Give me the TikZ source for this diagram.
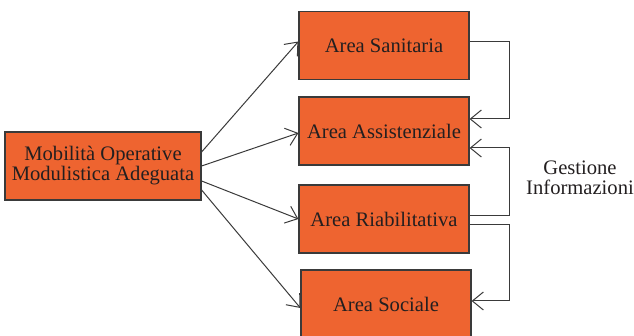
\documentclass[tikz,border=0pt]{standalone}
\usepackage{fontspec}
\setmainfont{Liberation Serif}
\usetikzlibrary{arrows.meta}
\definecolor{areafill}{HTML}{EE6430}
\definecolor{inkgray}{HTML}{3A3A3A}
\definecolor{txtgray}{HTML}{231F20}
\begin{document}
\begin{tikzpicture}[x=0.5pt,y=-0.5pt,
    font=\fontsize{10.3}{10}\selectfont,
    areabox/.style={draw=inkgray,line width=0.6pt,fill=areafill,text=txtgray,
      minimum width=85pt,minimum height=34pt,inner sep=0pt,align=center},
    arr/.style={draw=inkgray,line width=0.5pt,-{Straight Barb[length=5.5pt,width=9pt]}}]
  \useasboundingbox (0,0) rectangle (634,336);
  % source box
  \node[areabox,minimum width=98pt] (mob) at (103,166) {Mobilità Operative\\Modulistica Adeguata};
  % the four areas
  \node[areabox] (san) at (384,45.5) {Area Sanitaria};
  \node[areabox] (ass) at (384,131) {Area Assistenziale};
  \node[areabox] (ria) at (384,219) {Area Riabilitativa};
  \node[areabox] (soc) at (386,304) {Area Sociale};
  \node[text=txtgray,align=center] (gest) at (580,178) {Gestione\\Informazioni};
  % arrows out of the source box
  \draw[arr] ([yshift=7pt]mob.east) -- ([yshift=2pt]san.west);
  \draw[arr] (mob.east) -- ([yshift=-1pt]ass.west);
  \draw[arr] ([yshift=-7.5pt]mob.east) -- (ria.west);
  \draw[arr] ([yshift=-12pt]mob.east) -- ([yshift=-2pt]soc.west);
  % information loops on the right
  \draw[arr] ([yshift=2pt]san.east) -- ++(20pt,0) |- ([yshift=6pt]ass.east);
  \draw[arr] ([yshift=1.5pt]ria.east) -- ++(20pt,0) |- ([yshift=-8.5pt]ass.east);
  \draw[arr] ([yshift=-3pt]ria.east) -- ++(20pt,0) |- ([yshift=1.5pt]soc.east);
\end{tikzpicture}
\end{document}
